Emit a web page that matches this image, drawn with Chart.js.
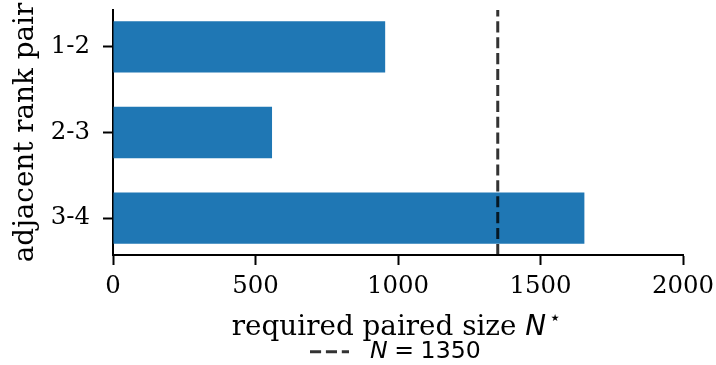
<!DOCTYPE html>
<html><head><meta charset="utf-8">
<script src="https://cdn.jsdelivr.net/npm/chart.js@4"></script>
<style>html,body{margin:0;padding:0;background:#fff;} canvas{display:block;}</style>
</head><body>
<canvas id="c" width="716" height="365"></canvas>
<script>
const categories = ['1-2', '2-3', '3-4'];
const requiredN = [955, 558, 1654];
const referenceN = 1350;
const xTicks = [0, 500, 1000, 1500, 2000];
const yPositions = [0, 1, 2];

const SERIF = '"DejaVu Serif", serif';
const SANS = '"DejaVu Sans", sans-serif';
const TICK_PX = 24.4;
const LABEL_PX = 27.8;
const LEGEND_PX = 23.6;
const Y_MIN = -0.43, Y_MAX = 2.43;
const lineColor = 'rgba(0,0,0,0.8)';
const dash = [11.1, 4.8];

const annot = {
  id: 'annot',
  afterDraw(chart) {
    const ctx = chart.ctx, ca = chart.chartArea;
    const cx = (ca.left + ca.right) / 2;
    ctx.save();
    ctx.fillStyle = '#000';
    ctx.textAlign = 'left';
    ctx.textBaseline = 'alphabetic';
    // x-axis title with mixed fonts
    const p1 = 'required paired size ';
    ctx.font = `${LABEL_PX}px ${SERIF}`;
    const w1 = ctx.measureText(p1).width;
    ctx.font = `italic ${LABEL_PX}px ${SANS}`;
    const w2 = ctx.measureText('N').width;
    ctx.font = `${LABEL_PX * 0.7}px ${SANS}`;
    const w3 = ctx.measureText('\u22C6').width;
    const total = w1 + w2 + 3 + w3;
    let x = cx - 1.5 - total / 2;
    const base = ca.bottom + 80;
    ctx.font = `${LABEL_PX}px ${SERIF}`; ctx.fillText(p1, x, base); x += w1;
    ctx.font = `italic ${LABEL_PX}px ${SANS}`; ctx.fillText('N', x, base); x += w2 + 3;
    ctx.font = `${LABEL_PX * 0.7}px ${SANS}`; ctx.fillText('\u22C6', x, base - 11);
    // legend
    const ly = ca.bottom + 96.7;
    ctx.strokeStyle = lineColor;
    ctx.lineWidth = 3;
    ctx.setLineDash(dash);
    ctx.beginPath();
    ctx.moveTo(cx - 88, ly); ctx.lineTo(cx - 49, ly);
    ctx.stroke();
    ctx.setLineDash([]);
    const tb = ca.bottom + 103;
    let tx = cx - 28;
    ctx.font = `italic ${LEGEND_PX}px ${SANS}`;
    ctx.fillText('N', tx, tb);
    tx += ctx.measureText('N').width + 6.6;
    ctx.font = `${LEGEND_PX}px ${SANS}`;
    ctx.fillText('=', tx, tb);
    tx += ctx.measureText('=').width + 6.6;
    ctx.fillText(String(referenceN), tx, tb);
    ctx.restore();
  }
};

function zeroPad(s) { s.paddingTop = 0; s.paddingBottom = 0; s.paddingLeft = 0; s.paddingRight = 0; }

new Chart(document.getElementById('c'), {
  type: 'bar',
  data: {
    datasets: [
      {
        type: 'line',
        indexAxis: 'y',
        data: [{ x: referenceN, y: Y_MAX }, { x: referenceN, y: Y_MIN }],
        borderColor: lineColor,
        borderWidth: 3,
        borderDash: dash,
        pointRadius: 0,
        fill: false,
        order: 1,
        clip: false
      },
      {
        type: 'bar',
        indexAxis: 'y',
        data: requiredN.map((v, i) => ({ x: v, y: yPositions[i] })),
        backgroundColor: '#1f77b4',
        borderWidth: 0,
        categoryPercentage: 0.6,
        barPercentage: 1.0,
        order: 2
      }
    ]
  },
  options: {
    indexAxis: 'y',
    responsive: false,
    animation: false,
    devicePixelRatio: 1,
    layout: { padding: { top: 10, right: 33, left: 0, bottom: 0 } },
    plugins: { legend: { display: false }, tooltip: { enabled: false } },
    scales: {
      x: {
        type: 'linear',
        min: 0, max: 2000,
        afterBuildTicks: s => { s.ticks = xTicks.map(v => ({ value: v })); },
        grid: { display: true, drawOnChartArea: false, drawTicks: true, tickLength: 10, tickWidth: 2, tickColor: '#000', offset: false },
        border: { display: true, color: '#000', width: 2 },
        ticks: { color: '#000', font: { family: SERIF, size: TICK_PX }, padding: 7, maxRotation: 0, autoSkip: false, callback: v => String(v) },
        afterFit: s => { s.height = 110; zeroPad(s); }
      },
      y: {
        type: 'linear',
        reverse: true,
        offset: false,
        min: Y_MIN, max: Y_MAX,
        afterBuildTicks: s => { s.ticks = yPositions.map(v => ({ value: v })); },
        grid: { display: true, drawOnChartArea: false, drawTicks: true, tickLength: 10, tickWidth: 2, tickColor: '#000', offset: false },
        border: { display: true, color: '#000', width: 2 },
        ticks: { color: '#000', font: { family: SERIF, size: TICK_PX }, padding: 13, autoSkip: false, callback: v => categories[v] },
        title: { display: true, text: 'adjacent rank pair', color: '#000', font: { family: SERIF, size: LABEL_PX }, padding: { top: 9, bottom: 0 } },
        afterFit: s => { s.width = 113; zeroPad(s); }
      }
    }
  },
  plugins: [annot]
});
</script>
</body></html>
